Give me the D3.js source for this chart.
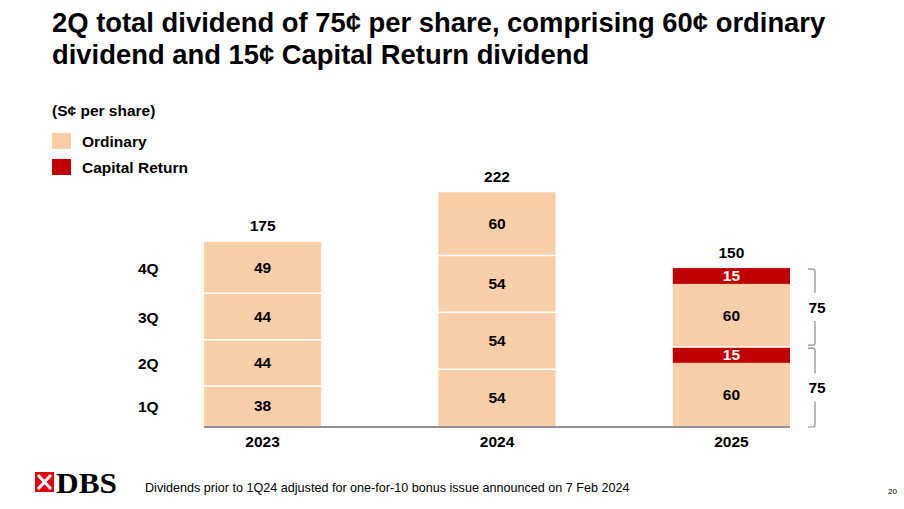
<!DOCTYPE html>
<html>
<head>
<meta charset="utf-8">
<script src="https://cdn.jsdelivr.net/npm/d3@7"></script>
<style>
  body { margin: 0; background: #fff; }
  svg { font-family: "Liberation Sans", Arial, sans-serif; }
</style>
</head>
<body>
<svg id="chart" width="904" height="509"></svg>
<script>
// chart data
const years = ["2023", "2024", "2025"];
const quarters = ["1Q", "2Q", "3Q", "4Q"];
const ordinary = [[38, 44, 44, 49], [54, 54, 54, 60], [60, 60]];
const capitalReturn = [[0, 0, 0, 0], [0, 0, 0, 0], [15, 15]];
const bracketYear = "2025";

const peach = "#F8CFA9";
const red = "#C00000";
const labelSize = "15.5px";

const svg = d3.select("#chart");

// title
svg.append("text")
  .attr("x", 52).attr("y", 32)
  .style("font-size", "27.4px").style("font-weight", "bold")
  .text("2Q total dividend of 75¢ per share, comprising 60¢ ordinary");
svg.append("text")
  .attr("x", 52).attr("y", 64)
  .style("font-size", "27.4px").style("font-weight", "bold")
  .text("dividend and 15¢ Capital Return dividend");

// unit + legend
svg.append("text")
  .attr("x", 52).attr("y", 116)
  .style("font-size", labelSize).style("font-weight", "bold")
  .text("(S¢ per share)");

const legend = [{ label: "Ordinary", color: peach, y: 133 }, { label: "Capital Return", color: red, y: 159 }];
legend.forEach(l => {
  svg.append("rect").attr("x", 52).attr("y", l.y).attr("width", 19).attr("height", 16).attr("fill", l.color);
  svg.append("text")
    .attr("x", 82).attr("y", l.y + 14)
    .style("font-size", labelSize).style("font-weight", "bold")
    .text(l.label);
});

// scales
const x = d3.scaleBand().domain(years).range([204, 790]).paddingInner(0.5).paddingOuter(0);
const y = d3.scaleLinear().domain([0, 222]).range([426, 192.3]);

// build stacked segments
const segments = [];
const quarterEdges = [];
const totals = [];
years.forEach((yr, i) => {
  let acc = 0;
  ordinary[i].forEach((v, q) => {
    segments.push({ year: yr, q, type: "ord", y0: acc, y1: acc + v, value: v });
    acc += v;
    const cr = capitalReturn[i][q];
    if (cr > 0) {
      segments.push({ year: yr, q, type: "cr", y0: acc, y1: acc + cr, value: cr });
      acc += cr;
    }
    quarterEdges.push({ year: yr, q, start: acc - v - cr, end: acc, value: v + cr });
  });
  totals.push({ year: yr, value: acc });
});

const g = svg.append("g");

g.selectAll("rect.seg")
  .data(segments)
  .enter()
  .append("rect")
  .attr("class", "seg")
  .attr("x", d => x(d.year))
  .attr("width", x.bandwidth())
  .attr("y", d => y(d.y1))
  .attr("height", d => y(d.y0) - y(d.y1))
  .attr("fill", d => d.type === "cr" ? red : peach);

// white separators between quarters
g.selectAll("line.sep")
  .data(quarterEdges.filter(d => d.start > 0))
  .enter()
  .append("line")
  .attr("x1", d => x(d.year)).attr("x2", d => x(d.year) + x.bandwidth())
  .attr("y1", d => y(d.start)).attr("y2", d => y(d.start))
  .attr("stroke", "#fff").attr("stroke-width", 1.5);

// segment labels
g.selectAll("text.val")
  .data(segments)
  .enter()
  .append("text")
  .attr("x", d => x(d.year) + x.bandwidth() / 2)
  .attr("y", d => (y(d.y0) + y(d.y1)) / 2 + 5.5)
  .attr("text-anchor", "middle")
  .style("font-size", labelSize).style("font-weight", "bold")
  .style("fill", d => d.type === "cr" ? "#fff" : "#000")
  .text(d => d.value);

// totals
g.selectAll("text.total")
  .data(totals)
  .enter()
  .append("text")
  .attr("x", d => x(d.year) + x.bandwidth() / 2)
  .attr("y", d => y(d.value) - 10.5)
  .attr("text-anchor", "middle")
  .style("font-size", labelSize).style("font-weight", "bold")
  .text(d => d.value);

// quarter labels (aligned to first year)
g.selectAll("text.qlab")
  .data(quarterEdges.filter(d => d.year === years[0]))
  .enter()
  .append("text")
  .attr("x", 138)
  .attr("y", d => (y(d.start) + y(d.end)) / 2 + 6)
  .style("font-size", labelSize).style("font-weight", "bold")
  .text(d => quarters[d.q]);

// baseline axis
g.append("line")
  .attr("x1", 204).attr("x2", 790)
  .attr("y1", y(0) + 1).attr("y2", y(0) + 1)
  .attr("stroke", "#6f6f6f").attr("stroke-width", 1.5);

const xAxis = g.append("g")
  .attr("transform", `translate(0,${y(0)})`)
  .call(d3.axisBottom(x).tickSize(0).tickPadding(10));
xAxis.select(".domain").remove();
xAxis.selectAll("text")
  .style("font-family", "Liberation Sans, Arial, sans-serif")
  .style("font-size", labelSize).style("font-weight", "bold").style("fill", "#000");

// brackets for 2025 quarters
const bx = 815;
quarterEdges.filter(d => d.year === bracketYear).forEach((d, i) => {
  const top = y(d.end) + 1;
  const bot = y(d.start) - (i === 0 ? -1 : 2);
  const mid = (top + bot) / 2;
  const gap = 14;
  g.append("path")
    .attr("d", `M${bx - 7},${top} L${bx - 2},${top} Q${bx},${top} ${bx},${top + 2} L${bx},${mid - gap}
                M${bx},${mid + gap} L${bx},${bot - 2} Q${bx},${bot} ${bx - 2},${bot} L${bx - 7},${bot}`)
    .attr("fill", "none").attr("stroke", "#8c8c8c").attr("stroke-width", 1.2);
  g.append("text")
    .attr("x", bx + 2).attr("y", mid + 5.5)
    .attr("text-anchor", "middle")
    .style("font-size", labelSize).style("font-weight", "bold")
    .text(d.value);
});

// DBS logo
const logo = svg.append("g").attr("transform", "translate(35,472)");
logo.append("rect").attr("width", 19).attr("height", 20).attr("fill", "#E3000F");
logo.append("path")
  .attr("d", "M3,3 L16,17 M16,3 L3,17")
  .attr("stroke", "#fff").attr("stroke-width", 3).attr("stroke-linecap", "butt");
logo.append("path")
  .attr("d", "M9.5,7.5 L12,10 L9.5,12.5 L7,10 Z")
  .attr("fill", "#fff");
svg.append("text")
  .attr("x", 56).attr("y", 493)
  .style("font-family", "Liberation Serif, Times New Roman, serif")
  .style("font-size", "29px").style("font-weight", "bold")
  .attr("textLength", 61).attr("lengthAdjust", "spacingAndGlyphs")
  .text("DBS");

// footnote
svg.append("text")
  .attr("x", 145).attr("y", 492)
  .style("font-size", "12.6px")
  .text("Dividends prior to 1Q24 adjusted for one-for-10 bonus issue announced on 7 Feb 2024");

svg.append("text")
  .attr("x", 888).attr("y", 494)
  .style("font-size", "8px")
  .text("20");
</script>
</body>
</html>
